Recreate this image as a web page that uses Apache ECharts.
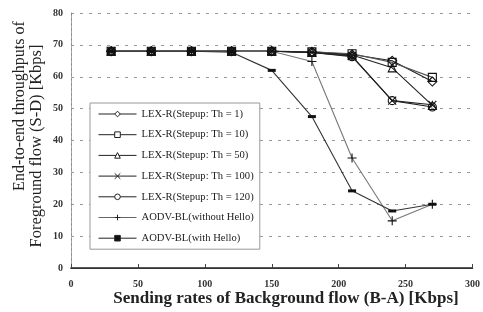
<!DOCTYPE html>
<html><head><meta charset="utf-8">
<script src="https://cdn.jsdelivr.net/npm/echarts@6/dist/echarts.min.js"></script>
<style>html,body{margin:0;padding:0;background:#fff}#c{width:483px;height:312px}</style>
</head><body><div id="c"></div>
<script>
var xRates = [30, 60, 90, 120, 150, 180, 210, 240, 270];
var th1 = [68, 68, 68, 68, 68, 67.8, 67, 65, 58.5];
var th10 = [68, 68, 68, 68, 68, 67.8, 67.2, 64.5, 59.8];
var th50 = [68, 68, 68, 68, 68, 67.6, 66.8, 62.8, 51];
var th100 = [68, 68, 68, 68, 68, 67.6, 66.5, 52.5, 51.2];
var th120 = [68, 68, 68, 68, 68, 67.6, 66.3, 52.5, 50.5];
var noHello = [68, 68, 68, 68, 68, 64.8, 34.5, 14.8, 20];
var withHello = [68, 68, 68, 67.7, 62, 47.5, 24.2, 17.9, 20];
var names = ['LEX-R(Stepup: Th = 1)', 'LEX-R(Stepup: Th = 10)', 'LEX-R(Stepup: Th = 50)',
  'LEX-R(Stepup: Th = 100)', 'LEX-R(Stepup: Th = 120)', 'AODV-BL(without Hello)', 'AODV-BL(with Hello)'];
var xTicks = [0, 50, 100, 150, 200, 250, 300];
var yTicks = [0, 10, 20, 30, 40, 50, 60, 70, 80];

function pairs(v) { return xRates.map(function (x, i) { return [x, v[i]]; }); }
var serif = '"Liberation Serif", "DejaVu Serif", serif';

function mk(name, vals, symbol, size, lineColor, filled) {
  return {
    name: name, type: 'line', data: pairs(vals), symbol: symbol, symbolSize: size,
    showAllSymbol: true,
    lineStyle: { color: lineColor, width: 1.1 },
    itemStyle: filled ? { color: '#111', borderColor: '#111', borderWidth: 0 }
                      : { color: 'rgba(255,255,255,0)', borderColor: '#111', borderWidth: 1.1 },
    emphasis: { disabled: true }, z: 3
  };
}
var legendFill = ['#fff', '#fff', '#fff', 'rgba(255,255,255,0)', '#fff', 'rgba(255,255,255,0)', '#111'];
var legendData = names.map(function (n, i) {
  return {
    name: n,
    itemStyle: { color: legendFill[i], borderColor: '#222', borderWidth: 1 },
    lineStyle: { color: i === 5 ? '#666' : '#222', width: 1 }
  };
});

var chart = echarts.init(document.getElementById('c'), null, { renderer: 'canvas' });
chart.setOption({
  animation: false,
  backgroundColor: '#fff',
  grid: { left: 71, right: 6, top: 13, bottom: 44, containLabel: false },
  xAxis: [{
    type: 'value', min: 0, max: 300, interval: 50,
    axisLine: { show: true, lineStyle: { color: '#222', width: 1.5 } },
    axisTick: { show: true, inside: true, length: 4, lineStyle: { color: '#444' } },
    axisLabel: { margin: 11, fontFamily: serif, fontSize: 10, fontWeight: 'bold', color: '#333' },
    splitLine: { show: false }
  }, {
    type: 'value', position: 'top', min: 0, max: 300, interval: 50,
    axisLine: { show: true, lineStyle: { color: '#333', width: 1 } },
    axisTick: { show: false }, axisLabel: { show: false }, splitLine: { show: false }
  }],
  yAxis: [{
    type: 'value', min: 0, max: 80, interval: 10,
    axisLine: { show: true, lineStyle: { color: '#888', width: 1 } },
    axisTick: { show: false },
    axisLabel: { margin: 8, fontFamily: serif, fontSize: 10, fontWeight: 'bold', color: '#333' },
    splitLine: { show: true, lineStyle: { color: '#999', type: [3, 6], width: 1 } }
  }, {
    type: 'value', position: 'right', min: 0, max: 80, interval: 10,
    axisLine: { show: true, lineStyle: { color: '#aaa', width: 1, type: [2, 3] } },
    axisTick: { show: false }, axisLabel: { show: false }, splitLine: { show: false }
  }],
  legend: {
    orient: 'vertical', left: 90, top: 103,
    padding: [4.5, 6, 4.5, 8],
    itemGap: 7.7, itemWidth: 38, itemHeight: 7,
    backgroundColor: '#fff', borderColor: '#999', borderWidth: 1,
    textStyle: { fontFamily: serif, fontSize: 10.6, color: '#222', lineHeight: 13 },
    data: legendData
  },
  graphic: [{
    type: 'text', x: 20, y: 106, rotation: Math.PI / 2,
    style: {
      text: 'End-to-end throughputs of',
      font: '16px ' + serif, fill: '#222', align: 'center', verticalAlign: 'middle'
    }
  }, {
    type: 'text', x: 37, y: 146, rotation: Math.PI / 2,
    style: {
      text: 'Foreground flow (S-D) [Kbps]',
      font: '16.5px ' + serif, fill: '#222', align: 'center', verticalAlign: 'middle'
    }
  }, {
    type: 'text', x: 286, y: 299,
    style: {
      text: 'Sending rates of Background flow (B-A) [Kbps]',
      font: 'bold 17px ' + serif, fill: '#222', align: 'center', verticalAlign: 'middle'
    }
  }],
  series: [
    mk(names[0], th1, 'diamond', 9, '#222'),
    mk(names[1], th10, 'rect', 8, '#555'),
    mk(names[2], th50, 'triangle', 8, '#222'),
    mk(names[3], th100, 'path://M0,0L10,10M10,0L0,10', 8, '#222'),
    mk(names[4], th120, 'circle', 8, '#222'),
    mk(names[5], noHello, 'path://M5,0L5,10M0,5L10,5', 9, '#777'),
    mk(names[6], withHello, 'rect', [8, 3], '#333', true)
  ]
});
</script></body></html>
